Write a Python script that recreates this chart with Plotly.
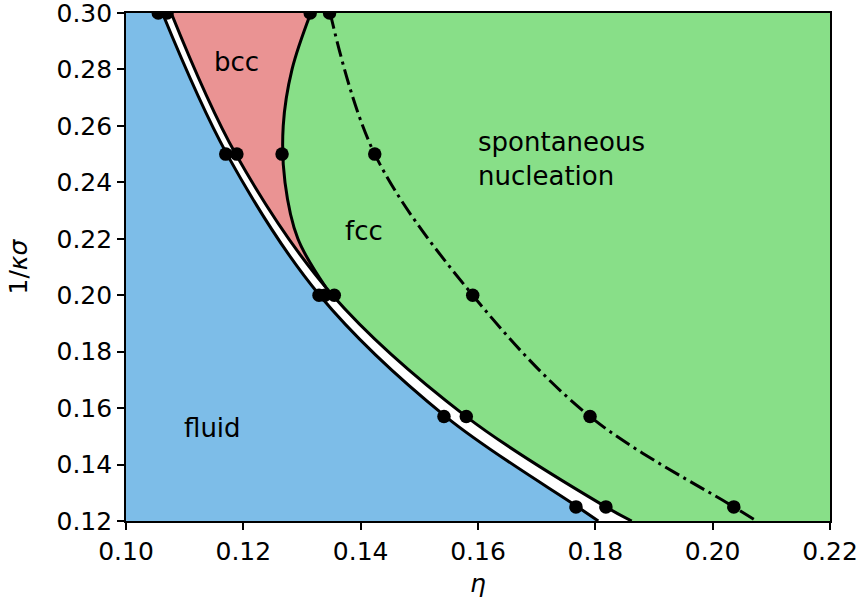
import plotly.graph_objects as go

# ---- data ----
# boundary curves (x at the given y values)
curve_y = [0.30, 0.25, 0.20, 0.157, 0.125, 0.12]
fluid_line_x = [0.1062, 0.1172, 0.1330, 0.1545, 0.1770, 0.1805]
fcc_line_x = [0.1077, 0.1187, 0.1352, 0.1580, 0.1818, 0.1862]
spont_line_x = [0.1348, 0.1424, 0.1591, 0.1791, 0.2036, 0.2075]
bcc_line_y = [0.30, 0.28, 0.26, 0.24, 0.22, 0.203]
bcc_line_x = [0.1315, 0.1283, 0.1268, 0.1271, 0.1293, 0.1340]

# simulation points
pts_y = [0.30, 0.25, 0.20, 0.157, 0.125]
fluid_pts_x = [0.1055, 0.1170, 0.1329, 0.1542, 0.1767]
fcc_pts_x = [0.1070, 0.1189, 0.1355, 0.1580, 0.1818]
spont_pts_x = [0.1347, 0.1424, 0.1591, 0.1791, 0.2036]
bcc_pts_y = [0.30, 0.25, 0.20]
bcc_pts_x = [0.1314, 0.1266, 0.1339]

x_range = [0.10, 0.22]
y_range = [0.12, 0.30]
x_ticks = [0.10, 0.12, 0.14, 0.16, 0.18, 0.20, 0.22]
y_ticks = [0.12, 0.14, 0.16, 0.18, 0.20, 0.22, 0.24, 0.26, 0.28, 0.30]

BLUE = "#7dbde8"
RED = "#ea9393"
GREEN = "#88df88"

fig = go.Figure()
SM = 1.0

# red (bcc) region: left edge segment then bcc curve
fig.add_trace(go.Scatter(x=[x_range[0], x_range[0]], y=[bcc_line_y[0], bcc_line_y[-1]],
                         mode="lines", line=dict(width=0), showlegend=False, hoverinfo="skip"))
fig.add_trace(go.Scatter(x=bcc_line_x, y=bcc_line_y, mode="lines", fill="tonextx",
                         fillcolor=RED, line=dict(width=0, shape="spline", smoothing=SM),
                         showlegend=False, hoverinfo="skip"))
# blue (fluid) region
fig.add_trace(go.Scatter(x=[x_range[0], x_range[0]], y=[curve_y[0], curve_y[-1]],
                         mode="lines", line=dict(width=0), showlegend=False, hoverinfo="skip"))
fig.add_trace(go.Scatter(x=fluid_line_x, y=curve_y, mode="lines", fill="tonextx",
                         fillcolor=BLUE, line=dict(width=0, shape="spline", smoothing=SM),
                         showlegend=False, hoverinfo="skip"))
# white coexistence band
fig.add_trace(go.Scatter(x=fcc_line_x, y=curve_y, mode="lines", fill="tonextx",
                         fillcolor="white", line=dict(width=0, shape="spline", smoothing=SM),
                         showlegend=False, hoverinfo="skip"))

# lines
for xs, ys, dash in [(fluid_line_x, curve_y, "solid"), (fcc_line_x, curve_y, "solid"),
                     (bcc_line_x, bcc_line_y, "solid"),
                     (spont_line_x, curve_y, "16px,5px,3px,5px")]:
    fig.add_trace(go.Scatter(x=xs, y=ys, mode="lines",
                             line=dict(color="black", width=3, shape="spline", smoothing=SM, dash=dash),
                             showlegend=False, hoverinfo="skip"))

# markers
for xs, ys in [(fluid_pts_x, pts_y), (fcc_pts_x, pts_y), (bcc_pts_x, bcc_pts_y), (spont_pts_x, pts_y)]:
    fig.add_trace(go.Scatter(x=xs, y=ys, mode="markers",
                             marker=dict(color="black", size=13.5, line=dict(width=0)),
                             showlegend=False))

FONT = "DejaVu Sans"
ann_font = dict(family=FONT, size=26, color="black")
fig.add_annotation(x=0.1189, y=0.2826, text="bcc", showarrow=False, font=ann_font)
fig.add_annotation(x=0.1148, y=0.1530, text="fluid", showarrow=False, font=ann_font)
fig.add_annotation(x=0.1406, y=0.2228, text="fcc", showarrow=False, font=ann_font)
fig.add_annotation(x=0.1597, y=0.2483, text="spontaneous<br>nucleation", showarrow=False,
                   font=ann_font, xanchor="left", align="left")

axis_common = dict(showline=True, linecolor="black", linewidth=1.6, mirror=True,
                   ticks="outside", ticklen=7, tickwidth=1.6, tickcolor="black",
                   showgrid=False, zeroline=False, tickformat=".2f", automargin=False,
                   ticklabeloverflow="allow",
                   tickfont=dict(family=FONT, size=25, color="black"))
fig.update_xaxes(range=x_range, tickvals=x_ticks,
                 title=dict(text="<i>η</i>", font=dict(family=FONT, size=25, color="black"), standoff=10),
                 **axis_common)
fig.update_yaxes(range=y_range, tickvals=y_ticks,
                 title=dict(text="1/<i>κσ</i>", font=dict(family=FONT, size=25, color="black"), standoff=22),
                 **axis_common)

fig.update_layout(width=862, height=607, plot_bgcolor=GREEN, paper_bgcolor="white",
                  margin=dict(l=126, r=32, t=13, b=86), showlegend=False)

fig.write_html("out.html")
